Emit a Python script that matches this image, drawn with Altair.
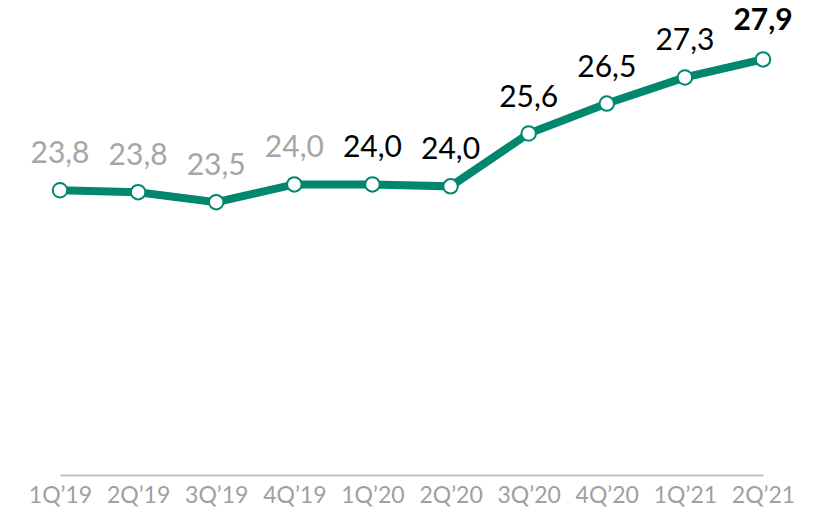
import altair as alt
import pandas as pd

quarters = ["1Q’19", "2Q’19", "3Q’19", "4Q’19", "1Q’20", "2Q’20", "3Q’20", "4Q’20", "1Q’21", "2Q’21"]
values = [23.84, 23.78, 23.47, 24.02, 24.02, 23.96, 25.6, 26.53, 27.34, 27.9]
labels = ["23,8", "23,8", "23,5", "24,0", "24,0", "24,0", "25,6", "26,5", "27,3", "27,9"]
label_colors = ["#A6A6A6", "#A6A6A6", "#A6A6A6", "#A6A6A6", "#000000", "#000000", "#000000", "#000000", "#000000", "#000000"]
label_weights = ["normal"] * 9 + ["bold"]

df = pd.DataFrame({
    "q": quarters, "v": values, "lab": labels,
    "col": label_colors, "w": label_weights,
})

FONT = "Lato"
GREEN = "#00876E"

xs = alt.Scale(type="point", padding=0)
x = alt.X("q:N", sort=quarters, scale=xs,
          axis=alt.Axis(title=None, labelAngle=0, labelFont=FONT, labelFontSize=23,
                        labelColor="#A0A0A0", ticks=False, domainColor="#BFBFBF",
                        domainWidth=2, labelPadding=9, grid=False))
y = alt.Y("v:Q", scale=alt.Scale(domain=[15, 29], nice=False, zero=False), axis=None)

base = alt.Chart(df).encode(x=x, y=y)

line = base.mark_line(color=GREEN, strokeWidth=8)
pts = base.mark_point(filled=True, fill="white", stroke=GREEN, strokeWidth=2, size=210, opacity=1)

text_norm = alt.Chart(df[df.w == "normal"]).mark_text(
    font=FONT, fontSize=30, baseline="alphabetic", dy=-27
).encode(x=alt.X("q:N", sort=quarters, scale=xs),
         y=y, text="lab:N", color=alt.Color("col:N", scale=None))
text_bold = alt.Chart(df[df.w == "bold"]).mark_text(
    font=FONT, fontSize=30, fontWeight="bold", baseline="alphabetic", dy=-29
).encode(x=alt.X("q:N", sort=quarters, scale=xs),
         y=y, text="lab:N", color=alt.Color("col:N", scale=None))

chart = alt.layer(line, pts, text_norm, text_bold).properties(
    width=703, height=451,
    autosize=alt.AutoSizeParams(type="none"),
    padding={"left": 60, "top": 24, "right": 57, "bottom": 35},
    background="white",
).configure_view(stroke=None)

chart.save("out.html", embed_options={"renderer": "svg", "actions": False})
